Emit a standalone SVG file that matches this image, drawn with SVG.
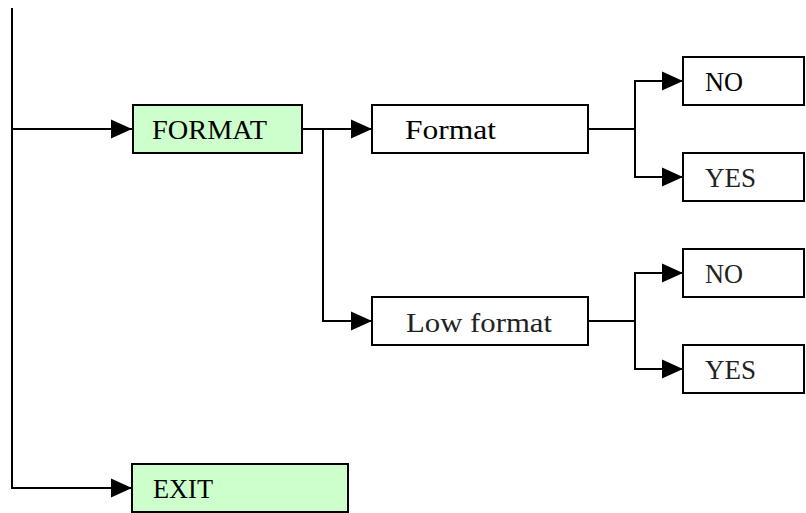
<svg xmlns="http://www.w3.org/2000/svg" width="806" height="513" viewBox="0 0 806 513">
<style>
.box{fill:#fff;stroke:#000;stroke-width:2}
.menu{fill:#ccffcc;stroke:#000;stroke-width:2}
.wire{fill:none;stroke:#000;stroke-width:2}
.t{font-family:"Liberation Serif","Times New Roman",serif;font-size:27px;fill:#000}
.lt{fill:#222}
</style>
<defs>
<marker id="ah" markerUnits="userSpaceOnUse" markerWidth="21" markerHeight="20" refX="21" refY="10" orient="auto" viewBox="0 0 21 20">
<path d="M0,0.5 L21,10 L0,19.5 Z" fill="#000"/>
</marker>
</defs>
<rect width="806" height="513" fill="#fff"/>
<g id="connectors">
<path class="wire" d="M12,8 V489"/>
<path class="wire" d="M12,129 H132" marker-end="url(#ah)"/>
<path class="wire" d="M12,488 H132" marker-end="url(#ah)"/>
<path class="wire" d="M302,129 H372" marker-end="url(#ah)"/>
<path class="wire" d="M323,129 V321 H372" marker-end="url(#ah)"/>
<path class="wire" d="M588,129 H635"/>
<path class="wire" d="M635,129 V81 H683" marker-end="url(#ah)"/>
<path class="wire" d="M635,129 V177 H683" marker-end="url(#ah)"/>
<path class="wire" d="M588,321 H635"/>
<path class="wire" d="M635,321 V273 H683" marker-end="url(#ah)"/>
<path class="wire" d="M635,321 V369 H683" marker-end="url(#ah)"/>
</g>
<g id="node-format-menu">
<rect class="menu" x="133" y="105" width="169" height="48"/>
<text class="t" x="152" y="139" textLength="115" lengthAdjust="spacingAndGlyphs">FORMAT</text>
</g>
<g id="node-format">
<rect class="box" x="372" y="105" width="216" height="48"/>
<text class="t" x="405" y="139" textLength="91" lengthAdjust="spacingAndGlyphs">Format</text>
</g>
<g id="node-format-no">
<rect class="box" x="683" y="57" width="121" height="48"/>
<text class="t" x="705" y="91" textLength="38" lengthAdjust="spacingAndGlyphs">NO</text>
</g>
<g id="node-format-yes">
<rect class="box" x="683" y="153" width="121" height="48"/>
<text class="t lt" x="705" y="187" textLength="51" lengthAdjust="spacingAndGlyphs">YES</text>
</g>
<g id="node-low-format">
<rect class="box" x="372" y="297" width="216" height="48"/>
<text class="t lt" x="406" y="332" textLength="146" lengthAdjust="spacingAndGlyphs">Low format</text>
</g>
<g id="node-low-no">
<rect class="box" x="683" y="249" width="121" height="48"/>
<text class="t lt" x="705" y="283" textLength="38" lengthAdjust="spacingAndGlyphs">NO</text>
</g>
<g id="node-low-yes">
<rect class="box" x="683" y="345" width="121" height="48"/>
<text class="t lt" x="705" y="379" textLength="51" lengthAdjust="spacingAndGlyphs">YES</text>
</g>
<g id="node-exit">
<rect class="menu" x="132" y="464" width="216" height="48"/>
<text class="t" x="153" y="498" textLength="60" lengthAdjust="spacingAndGlyphs">EXIT</text>
</g>
</svg>
